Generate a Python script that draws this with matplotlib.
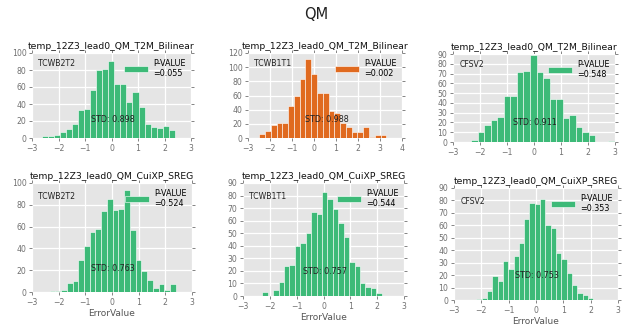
import numpy as np
import matplotlib
matplotlib.use("Agg")
import matplotlib.pyplot as plt

titles = ["temp_12Z3_lead0_QM_T2M_Bilinear"] * 3 + ["temp_12Z3_lead0_QM_CuiXP_SREG"] * 3
models = ["TCWB2T2", "TCWB1T1", "CFSV2", "TCWB2T2", "TCWB1T1", "CFSV2"]
pvalues = ["0.055", "0.002", "0.548", "0.524", "0.544", "0.353"]
stds = ["0.898", "0.988", "0.911", "0.763", "0.757", "0.753"]

# histogram range (min, max of errors) and counts per panel
bin_lo = [-2.61, -2.49, -2.32, -2.34, -2.28, -2.18]
bin_hi = [2.38, 3.29, 2.99, 2.39, 2.17, 2.09]
counts1 = [2, 2, 4, 7, 11, 17, 33, 34, 57, 80, 81, 91, 63, 64, 42, 54, 36, 16, 13, 12, 14, 10]
counts2 = [5, 10, 18, 21, 21, 45, 60, 84, 112, 90, 63, 63, 38, 35, 21, 16, 9, 8, 15, 1, 4, 4]
counts3 = [2, 10, 17, 22, 26, 47, 47, 72, 73, 89, 72, 65, 44, 44, 25, 28, 15, 10, 7, 0, 0, 1]
counts4 = [1, 1, 2, 8, 10, 29, 42, 55, 58, 74, 85, 75, 76, 94, 57, 29, 19, 11, 4, 7, 2, 7]
counts5 = [3, 0, 5, 11, 24, 25, 40, 42, 50, 67, 65, 83, 77, 69, 58, 47, 27, 24, 10, 7, 6, 2]
counts6 = [1, 2, 7, 19, 15, 31, 25, 35, 46, 65, 78, 77, 81, 60, 58, 38, 33, 22, 12, 6, 4, 2]
all_counts = [counts1, counts2, counts3, counts4, counts5, counts6]

xlims = [(-3, 3), (-3, 4), (-3, 3), (-3, 3), (-3, 3), (-3, 3)]
ylims = [(0, 100), (0, 120), (0, 90), (0, 100), (0, 90), (0, 90)]
colors = ["#3dba78", "#e06a1f", "#3dba78", "#3dba78", "#3dba78", "#3dba78"]

W, H = 632, 330
# axes boxes in pixels: left, right, top, bottom
boxes = [(32, 191, 53, 138), (248, 402, 53, 138), (453, 615, 54, 142),
         (32, 192, 183, 292), (243, 404, 183, 296), (454, 618, 188, 300)]

fig = plt.figure(figsize=(W / 100, H / 100), dpi=100)
fig.suptitle("QM", fontsize=10.5, y=0.98, color="#222222")

tick_c = "#707070"
for i in range(6):
    l, r, t, b = boxes[i]
    ax = fig.add_axes([l / W, 1 - b / H, (r - l) / W, (b - t) / H])
    ax.set_facecolor("#e5e5e5")
    for s in ax.spines.values():
        s.set_visible(False)
    ax.grid(True, color="white", linewidth=0.9)
    ax.set_axisbelow(True)
    c = np.array(all_counts[i])
    edges = np.linspace(bin_lo[i], bin_hi[i], len(c) + 1)
    ax.bar(edges[:-1], c, width=np.diff(edges), align="edge", color=colors[i],
           edgecolor="white", linewidth=0.4,
           label="P-VALUE\n=" + pvalues[i])
    ax.set_xlim(*xlims[i])
    ax.set_ylim(*ylims[i])
    ax.set_xticks(np.arange(xlims[i][0], xlims[i][1] + 1, 1))
    ystep = 20 if ylims[i][1] >= 100 else 10
    ax.set_yticks(np.arange(0, ylims[i][1] + 1, ystep))
    ax.tick_params(direction="out", length=2.5, width=0.6, color=tick_c,
                   labelcolor=tick_c, labelsize=5.6, pad=1.5,
                   top=True, right=True)
    ax.set_title(titles[i], fontsize=6.7, pad=3, color="#111111")
    ax.text(0.04, 0.88, models[i], transform=ax.transAxes, fontsize=5.6,
            va="center", ha="left", color="#222222")
    ax.text(0.37, 0.22, "STD: " + stds[i], transform=ax.transAxes, fontsize=5.8,
            va="center", ha="left", color="#222222")
    ax.legend(loc="upper right", frameon=False, fontsize=5.8, handlelength=3,
              handleheight=0.9, borderaxespad=0.3, handletextpad=0.6,
              labelspacing=0.2)
    if i >= 3:
        ax.set_xlabel("ErrorValue", fontsize=6.5, color="#555555", labelpad=1.5)

fig.savefig("out.png", dpi=100)
